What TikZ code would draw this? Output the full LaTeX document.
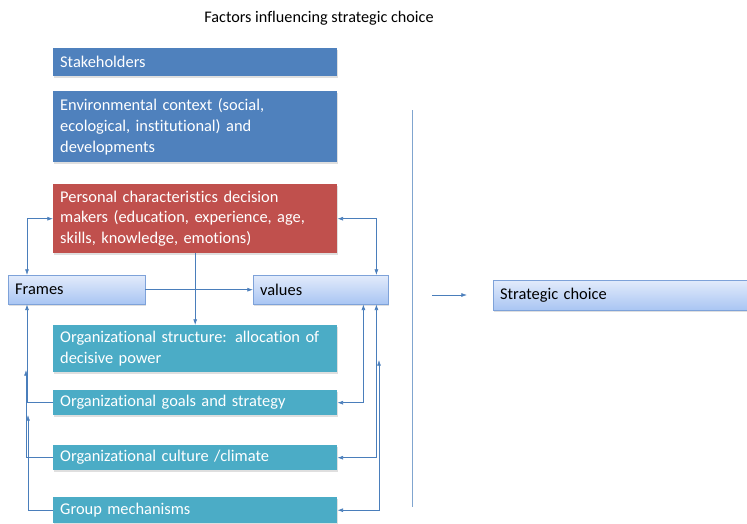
\documentclass[tikz,border=0pt]{standalone}
\usepackage{fontspec}
\setmainfont{Carlito}[Ligatures=NoCommon]
\usepackage{tikz}
\usetikzlibrary{arrows.meta,shadows}
\definecolor{stakeblue}{HTML}{4F81BD}
\definecolor{persred}{HTML}{C0504D}
\definecolor{orgteal}{HTML}{4BACC6}
\definecolor{linkblue}{HTML}{4A7EBB}
\definecolor{lighttop}{HTML}{E2EBFB}
\definecolor{lightbot}{HTML}{A9C5F3}
\definecolor{lightedge}{HTML}{7EA2D9}
\tikzset{
  factor/.style={anchor=north west, text=white, align=left, text width=270pt, inner xsep=7pt, inner ysep=2pt, font=\fontsize{16.4}{20.8}\selectfont, drop shadow={opacity=0.25, shadow xshift=1pt, shadow yshift=-2pt}},
  stakebox/.style={factor, fill=stakeblue},
  persbox/.style={factor, fill=persred},
  orgbox/.style={factor, fill=orgteal},
  lightbox/.style={anchor=north west, draw=lightedge, top color=lighttop, bottom color=lightbot, align=left, inner xsep=7pt, inner ysep=2pt, font=\fontsize{16.4}{20.8}\selectfont, drop shadow={opacity=0.25, shadow xshift=1pt, shadow yshift=-2pt}},
  link/.style={draw=linkblue, line width=0.7pt, -{Latex[length=2mm,width=1.4mm]}},
  twolink/.style={draw=linkblue, line width=0.7pt, {Latex[length=2mm,width=1.4mm]}-{Latex[length=2mm,width=1.4mm]}},
  divider/.style={draw=linkblue!70, line width=0.9pt}
}
\begin{document}
\begin{tikzpicture}[x=1pt,y=-1pt]
\useasboundingbox (0,0) rectangle (747,523);
\node[font=\fontsize{16.2}{19}\selectfont] (title) at (319,18) {Factors influencing strategic choice};
\node[stakebox, minimum height=28pt] (stake) at (53,48) {Stakeholders};
\node[stakebox, minimum height=71pt] (env) at (53,91) {Environmental context (social,\\ecological, institutional) and\\developments};
\node[persbox, minimum height=69pt] (pers) at (53,184) {Personal characteristics decision\\makers (education, experience, age,\\skills, knowledge, emotions)};
\node[lightbox, minimum width=137pt, minimum height=29pt, text width=123pt] (frames) at (8,275) {Frames};
\node[lightbox, minimum width=135pt, minimum height=29pt, text width=121pt] (values) at (253,275) {values};
\node[lightbox, minimum width=270pt, minimum height=30pt, text width=256pt] (choice) at (493,280) {Strategic choice};
\node[orgbox, minimum height=47pt] (structure) at (53,325) {Organizational structure: allocation of\\decisive power};
\node[orgbox, minimum height=25pt] (goals) at (53,390) {Organizational goals and strategy};
\node[orgbox, minimum height=25pt] (culture) at (53,445) {Organizational culture /climate};
\node[orgbox, minimum height=26pt] (group) at (53,497) {Group mechanisms};
\coordinate (cultureup) at (26,370);
\coordinate (groupup) at (28,415);
\coordinate (groupright) at (379,360);
\coordinate (choicefrom) at (432,295);
\coordinate (choiceto) at (467,295);
\coordinate (divtop) at (412,110);
\coordinate (divbot) at (412,507);
\draw[twolink] ([xshift=19pt]frames.north west) |- (pers.west);
\draw[twolink] ([xshift=-12pt]values.north east) |- (pers.east);
\draw[link] (pers.south) -- (structure.north);
\draw[link] (frames.east) -- (values.west);
\draw[link] (goals.west) -| ([xshift=19pt]frames.south west);
\draw[link] (culture.west) -| (cultureup);
\draw[link] (group.west) -| (groupup);
\draw[twolink] ([xshift=-25pt]values.south east) |- (goals.east);
\draw[twolink] ([xshift=-12pt]values.south east) |- (culture.east);
\draw[twolink] (groupright) |- (group.east);
\draw[link] (choicefrom) -- (choiceto);
\draw[divider] (divtop) -- (divbot);
\end{tikzpicture}
\end{document}
